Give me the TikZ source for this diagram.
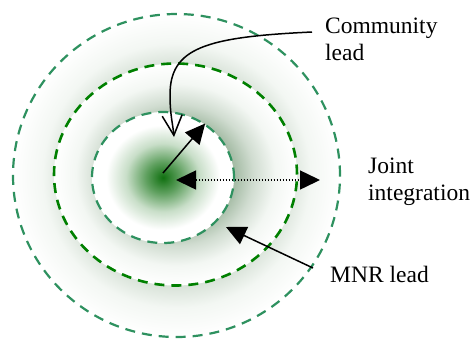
\documentclass[tikz,border=0pt]{standalone}
\usepackage{fontspec}
\setmainfont{Liberation Serif}
\usetikzlibrary{shapes.geometric,arrows.meta}

\definecolor{ringteal}{RGB}{46,145,95}
\definecolor{ringgreen}{RGB}{0,128,0}
% colour stops of the inner (bright green) fade
\definecolor{coreA}{RGB}{16,112,16}
\definecolor{coreB}{RGB}{95,160,95}
\definecolor{coreC}{RGB}{200,222,200}
% colour stops of the outer (greyish green) fades
\definecolor{ringA}{RGB}{90,125,90}
\definecolor{ringB}{RGB}{168,190,168}
\definecolor{ringC}{RGB}{208,220,208}
\definecolor{ringD}{RGB}{243,247,243}

\pgfdeclareradialshading{corefade}{\pgfpoint{0bp}{0bp}}{%
  color(0bp)=(coreA); color(6bp)=(coreB); color(13bp)=(coreC);
  color(20bp)=(white); color(50bp)=(white)}
\pgfdeclareradialshading{ringfade}{\pgfpoint{0bp}{0bp}}{%
  color(0bp)=(ringA); color(12.5bp)=(ringB); color(16bp)=(ringC);
  color(20.5bp)=(ringD); color(25bp)=(white); color(50bp)=(white)}

\begin{document}
\begin{tikzpicture}[x=1bp,y=-1bp,
  ring/.style={ellipse, inner sep=0pt, line width=2.2bp,
    dash pattern=on 10bp off 7bp, shade},
  lbl/.style={inner sep=0pt, align=left,
    font=\fontsize{23.5bp}{27bp}\selectfont},
  solidarr/.style={line width=1.5bp, -{Triangle[length=20bp,width=19bp]}},
  dotarr/.style={line width=1.5bp, dash pattern=on 1.5bp off 1.5bp,
    {Triangle[length=20bp,width=19bp]}-{Triangle[length=20bp,width=19bp]}},
  openarr/.style={line width=1.5bp, -{Straight Barb[length=20bp,width=20bp]}}]
\useasboundingbox (0,0) rectangle (473,339);

% nested zones, largest first
\node[ring, draw=ringteal, shading=ringfade,
  minimum width=327bp, minimum height=323bp] (outer) at (176.5,175.5) {};
\node[ring, draw=ringgreen, line width=2.6bp, shading=ringfade,
  minimum width=243bp, minimum height=222bp] (middle) at (175.5,174.5) {};
\node[ring, draw=ringteal, shading=corefade,
  minimum width=142bp, minimum height=131bp] (inner) at (163,177.5) {};

% labels (placed by the baseline of their last line)
\node[lbl, anchor=base west] (comm) at (325,60) {Community\\lead};
\node[lbl, anchor=base west] (joint) at (368,200) {Joint\\integration};
\node[lbl, anchor=base west] (mnr) at (330,282) {MNR lead};

% connectors
\coordinate (commtail) at (312,32);
\coordinate (commtip) at (174,137);
\draw[openarr] (commtail) .. controls (205,37) and (170,48) .. (170,95)
  .. controls (170,115) and (173,125) .. (commtip);

\coordinate (core) at (163,173);
\draw[solidarr] (core) -- (inner.52);

\coordinate (jl) at (176,180);
\coordinate (jr) at (320,180);
\draw[dotarr] (jl) -- (jr);

\coordinate (mnrtail) at (313,268);
\coordinate (mnrtip) at (226,227);
\draw[solidarr] (mnrtail) -- (mnrtip);
\end{tikzpicture}
\end{document}
